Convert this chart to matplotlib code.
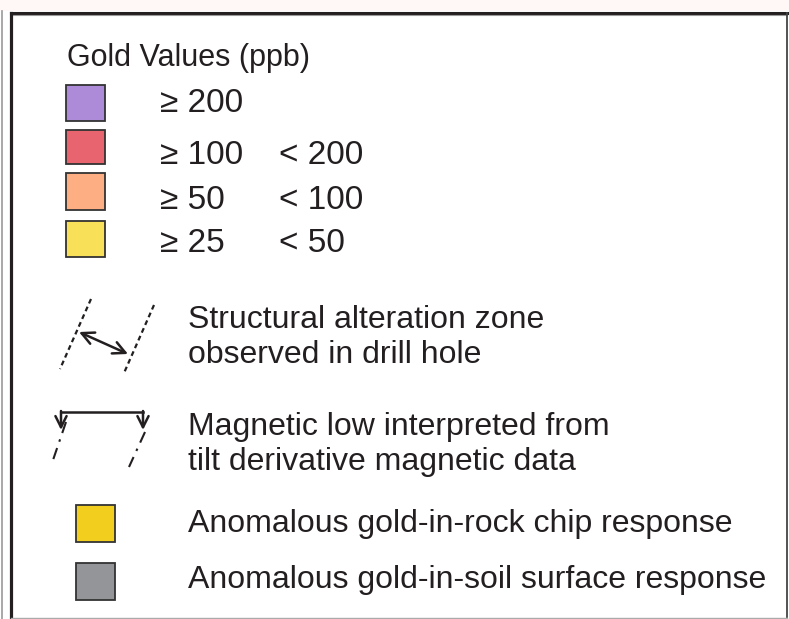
import matplotlib.pyplot as plt
from matplotlib.patches import Rectangle

plt.rcParams['font.family'] = ['Liberation Sans', 'DejaVu Sans']

# legend content
title = "Gold Values (ppb)"
gold_lower = ["≥ 200", "≥ 100", "≥ 50", "≥ 25"]
gold_upper = ["", "< 200", "< 100", "< 50"]
gold_colors = ["#ae8bd9", "#e8646e", "#fdae82", "#f8e158"]

line_labels = [["Structural alteration zone", "observed in drill hole"],
               ["Magnetic low interpreted from", "tilt derivative magnetic data"]]

anom_labels = ["Anomalous gold-in-rock chip response",
               "Anomalous gold-in-soil surface response"]
anom_colors = ["#f2cf1f", "#939598"]

# layout (pixel units, y down)
W, H = 789, 619
swatch_y = [85, 130, 173, 221]
swatch_h = [36, 34, 37, 36]
text_base = [112, 164, 209, 252]
label_base = [328, 435]
anom_y = [505, 563]
anom_text_y = [524, 580]
dark = "#231f20"

fig = plt.figure(figsize=(W / 100, H / 100), dpi=100)
ax = fig.add_axes([0, 0, 1, 1])
ax.set_xlim(0, W)
ax.set_ylim(H, 0)
ax.axis('off')

# frame
ax.add_patch(Rectangle((0, 0), W, 11, color="#fff8f6", lw=0))
ax.plot([2.5, 2.5], [11, H], color="#9a9a9a", lw=1.2)
ax.plot([11, 787.5], [12.5, 12.5], color=dark, lw=2.2)
ax.plot([11, 787.5], [14.5, 14.5], color="#999999", lw=0.8)
ax.plot([11, 11], [12.5, H], color=dark, lw=2.3)
ax.plot([787.5, 787.5], [12.5, 617], color="#444444", lw=1.3)
ax.plot([11, 787.5], [617.5, 617.5], color="#aaaaaa", lw=1.0)

# gold values
ax.text(67, 66, title, fontsize=22, va='baseline', ha='left', color=dark)
for i in range(len(gold_lower)):
    ax.add_patch(Rectangle((66, swatch_y[i]), 39, swatch_h[i], facecolor=gold_colors[i],
                           edgecolor="#333333", lw=1.3))
    ax.text(160, text_base[i], gold_lower[i], fontsize=24, va='baseline', ha='left', color=dark)
    if gold_upper[i]:
        ax.text(279, text_base[i], gold_upper[i], fontsize=24, va='baseline', ha='left', color=dark)

# structural alteration zone symbol
ax.plot([91, 60], [299, 369], color=dark, lw=1.6, dashes=(2.2, 1.6))
ax.plot([154, 124], [305, 373], color=dark, lw=1.6, dashes=(2.2, 1.6))
ax.annotate("", xy=(128, 354), xytext=(79, 332),
            arrowprops=dict(arrowstyle="<->", color=dark, lw=1.8,
                            mutation_scale=22, shrinkA=0, shrinkB=0))

# magnetic low symbol
ax.plot([61, 143], [412, 412], color=dark, lw=1.8)
for x0 in [61, 143]:
    ax.annotate("", xy=(x0, 430), xytext=(x0, 411),
                arrowprops=dict(arrowstyle="->", color=dark, lw=1.8,
                                mutation_scale=20, shrinkA=0, shrinkB=0))
ax.plot([66, 52], [422, 463], color=dark, lw=1.5, dashes=(5.6, 3.2, 1.2, 3.2))
ax.plot([145, 129], [432, 467], color=dark, lw=1.5, dashes=(5.6, 3.2, 1.2, 3.2))

for j, lines in enumerate(line_labels):
    for k, s in enumerate(lines):
        ax.text(188, label_base[j] + 35 * k, s, fontsize=23, va='baseline',
                ha='left', color=dark)

# anomalous responses
for i in range(len(anom_labels)):
    ax.add_patch(Rectangle((76, anom_y[i]), 39, 37, facecolor=anom_colors[i],
                           edgecolor="#333333", lw=1.3))
    ax.text(188, anom_text_y[i], anom_labels[i], fontsize=23, va='center',
            ha='left', color=dark)

fig.savefig("out.png", dpi=100)
